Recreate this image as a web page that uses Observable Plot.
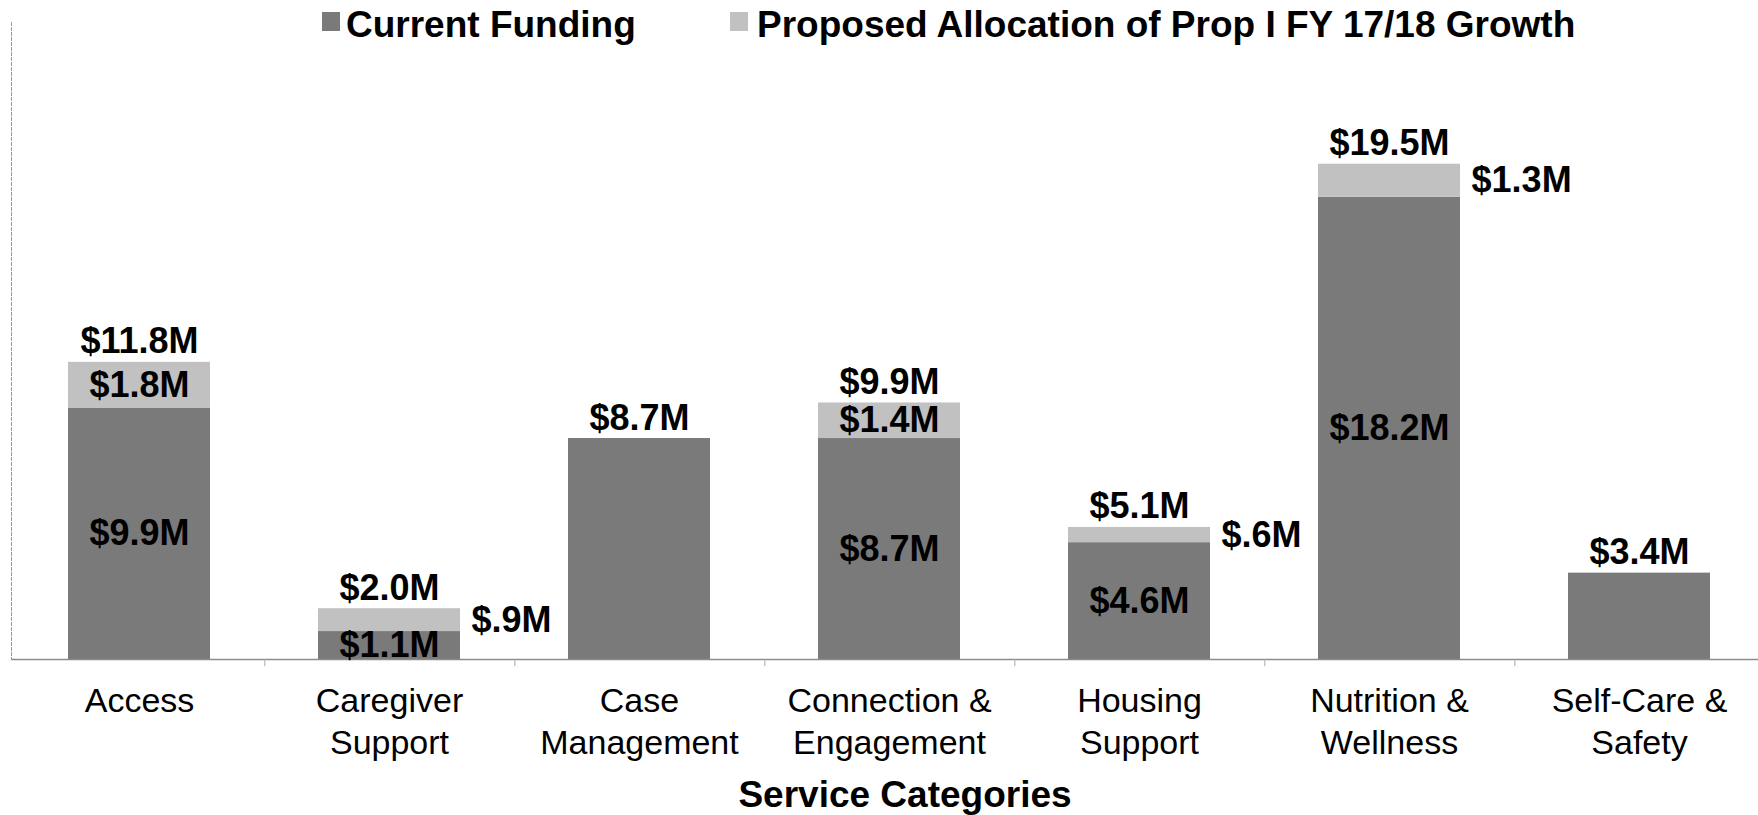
<!DOCTYPE html>
<html>
<head>
<meta charset="utf-8">
<script src="https://cdn.jsdelivr.net/npm/d3@7"></script>
<script src="https://cdn.jsdelivr.net/npm/@observablehq/plot@0.6"></script>
<style>
  html, body { margin: 0; padding: 0; background: #fff; overflow: hidden; }
  #wrap { position: relative; width: 1758px; height: 815px; font-family: "Liberation Sans", Arial, sans-serif; }
  #chart { position: absolute; left: 0; top: 0; }
  .leg-sw { position: absolute; top: 12px; width: 18px; height: 19px; }
  .leg-tx { position: absolute; top: 6px; font-size: 37px; line-height: 37px; font-weight: bold; white-space: nowrap; color: #000; }
  #xtitle { position: absolute; top: 776px; left: 905px; transform: translateX(-50%); font-size: 37px; line-height: 37px; font-weight: bold; white-space: nowrap; color: #000; }
</style>
</head>
<body>
<div id="wrap">
  <div id="chart"></div>
  <div id="legend"></div>
  <div id="xtitle"></div>
</div>
<script>
// ---- Data ----
const categories = ["Access", "Caregiver Support", "Case Management", "Connection & Engagement", "Housing Support", "Nutrition & Wellness", "Self-Care & Safety"];
const tickLabels = ["Access", "Caregiver\nSupport", "Case\nManagement", "Connection &\nEngagement", "Housing\nSupport", "Nutrition &\nWellness", "Self-Care &\nSafety"];
const seriesNames = ["Current Funding", "Proposed Allocation of Prop I FY 17/18 Growth"];
const currentFunding = [9.9, 1.1, 8.7, 8.7, 4.6, 18.2, 3.4];
const proposedGrowth = [1.8, 0.9, 0, 1.4, 0.6, 1.3, 0];
const totalLabels = ["$11.8M", "$2.0M", "$8.7M", "$9.9M", "$5.1M", "$19.5M", "$3.4M"];
const currentLabels = ["$9.9M", "$1.1M", "", "$8.7M", "$4.6M", "$18.2M", ""];
const proposedLabels = ["$1.8M", "$.9M", "", "$1.4M", "$.6M", "$1.3M", ""];
const proposedPlacement = ["inside", "right", "none", "inside", "right", "right", "none"];
const axisTitle = "Service Categories";

// ---- Layout / style ----
const W = 1758, H = 772;
const mL = 11, mR = -8, mT = 22, mB = 113;
const colors = ["#7a7a7a", "#c1c1c1"];
const font = '"Liberation Sans", Arial, sans-serif';
const padInner = 0.433;
const step = (W - mL - mR) / categories.length;
const barHalf = step * (1 - padInner) / 2;

const rows = categories.flatMap((c, i) => [
  {category: c, series: seriesNames[0], value: currentFunding[i]},
  {category: c, series: seriesNames[1], value: proposedGrowth[i]}
]);

const idx = categories.map((c, i) => i);
const inside = idx.filter(i => proposedPlacement[i] === "inside");
const right = idx.filter(i => proposedPlacement[i] === "right");

const plot = Plot.plot({
  width: W, height: H,
  marginLeft: mL, marginRight: mR, marginTop: mT, marginBottom: mB,
  x: {domain: categories, paddingInner: padInner, paddingOuter: padInner / 2, axis: null},
  y: {domain: [0, 25.08], axis: null},
  color: {domain: seriesNames, range: colors},
  style: {fontFamily: font, background: "white", overflow: "visible", color: "#000"},
  marks: [
    Plot.frame({anchor: "left", stroke: "#9a9a9a", strokeDasharray: "3,2", strokeWidth: 1}),
    Plot.barY(rows, {x: "category", y: "value", fill: "series"}),
    Plot.ruleY([0], {stroke: "#8c8c8c", strokeWidth: 1.5}),
    Plot.ruleX(categories.slice(0, -1), {x: d => d, dx: step / 2, y1: 0, y2: -0.28, stroke: "#aaa", strokeWidth: 1}),
    // totals above bars
    Plot.text(idx, {
      x: i => categories[i], y: i => currentFunding[i] + proposedGrowth[i],
      text: i => totalLabels[i], lineAnchor: "bottom", dy: -9,
      fontSize: 36, fontWeight: "bold", fill: "#000"
    }),
    // current funding labels inside dark segment
    Plot.text(idx.filter(i => currentLabels[i]), {
      x: i => categories[i], y: i => currentFunding[i] / 2,
      text: i => currentLabels[i], lineAnchor: "middle",
      fontSize: 36, fontWeight: "bold", fill: "#000"
    }),
    // proposed labels inside light segment
    Plot.text(inside, {
      x: i => categories[i], y: i => currentFunding[i] + proposedGrowth[i] / 2,
      text: i => proposedLabels[i], lineAnchor: "middle",
      fontSize: 36, fontWeight: "bold", fill: "#000"
    }),
    // proposed labels to the right of bar
    Plot.text(right, {
      x: i => categories[i], y: i => currentFunding[i] + proposedGrowth[i] / 2,
      text: i => proposedLabels[i], lineAnchor: "middle", textAnchor: "start",
      dx: barHalf + 11,
      fontSize: 36, fontWeight: "bold", fill: "#000"
    }),
    // category tick labels
    Plot.text(idx, {
      x: i => categories[i], frameAnchor: "bottom",
      text: i => tickLabels[i], lineAnchor: "top", lineHeight: 1.25, dy: 22,
      fontSize: 34, fill: "#000"
    })
  ]
});
document.getElementById("chart").appendChild(plot);

// ---- Legend (HTML, above chart) ----
const legend = document.getElementById("legend");
const legPos = [{sw: 322, tx: 346}, {sw: 730, tx: 757}];
seriesNames.forEach((name, k) => {
  const sw = document.createElement("div");
  sw.className = "leg-sw";
  sw.style.left = legPos[k].sw + "px";
  sw.style.background = colors[k];
  legend.appendChild(sw);
  const tx = document.createElement("div");
  tx.className = "leg-tx";
  tx.style.left = legPos[k].tx + "px";
  tx.textContent = name;
  legend.appendChild(tx);
});
document.getElementById("xtitle").textContent = axisTitle;
</script>
</body>
</html>
